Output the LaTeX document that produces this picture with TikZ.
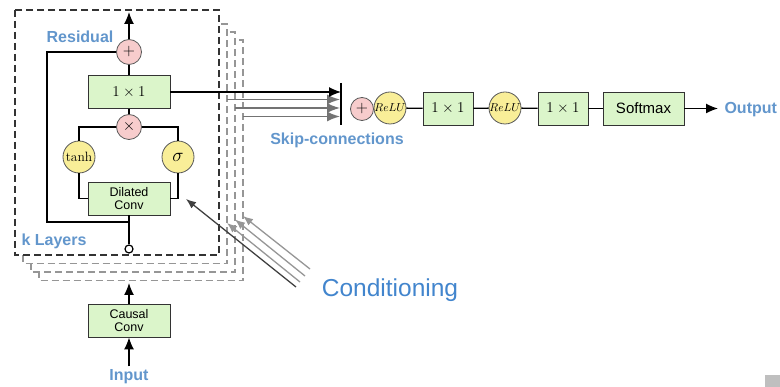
\RequirePackage{fix-cm}
\documentclass[tikz,border=0pt]{standalone}
\usepackage{fontspec}
\setsansfont{Liberation Sans}
\usepackage{amsmath}
\usetikzlibrary{arrows.meta}
\definecolor{boxgreen}{RGB}{219,245,202}
\definecolor{oppink}{RGB}{247,204,204}
\definecolor{actyellow}{RGB}{249,238,152}
\definecolor{lblblue}{RGB}{98,150,204}
\definecolor{condblue}{RGB}{66,133,205}
\definecolor{stackgray}{RGB}{150,150,150}

\begin{document}
\begin{tikzpicture}[x=1pt,y=-1pt,
    conv/.style={draw=black!80,fill=boxgreen,line width=0.9pt,minimum width=82pt,minimum height=33pt,inner sep=0pt,align=center,font=\sffamily\fontsize{12.5}{13.5}\selectfont},
    smallconv/.style={conv,minimum width=50pt,font=\fontsize{15}{18}\selectfont},
    opcirc/.style={circle,draw=black!65,fill=oppink,line width=0.8pt,minimum size=25pt,inner sep=0pt,font=\fontsize{16}{18}\selectfont},
    actcirc/.style={circle,draw=black!65,fill=actyellow,line width=0.8pt,minimum size=32pt,inner sep=0pt,font=\fontsize{13.5}{16}\selectfont},
    lbl/.style={text=lblblue,font=\sffamily\bfseries\fontsize{16}{18}\selectfont},
    layerbox/.style={line width=1.4pt,dash pattern=on 7pt off 4pt,fill=white},
    wire/.style={line width=1.3pt},
    arr/.style={wire,-{Latex[length=12pt,width=10pt]}},
    skiparr/.style={line width=1.5pt,draw=black!55,-{Latex[length=13pt,width=10pt]}},
    condarr/.style={line width=1.3pt,-{Latex[length=10pt,width=8pt]}}]
\path[use as bounding box] (0,0) rectangle (780,387);

% stacked layers
\foreach \k in {3,2,1}
    \draw[layerbox,draw=stackgray] ({15+8*\k},{16+8*\k}) rectangle ({219+8*\k},{255+8.5*\k});
\foreach \k in {1,2,3} {
    \coordinate (skipin\k) at ({219+8*\k},{91+8.5*\k});
    \coordinate (skipend\k) at (340,{91+8.5*\k});
    \draw[skiparr] (skipin\k) -- (skipend\k);
}
\draw[layerbox,draw=black!80] (15,10) rectangle (219,255);

% one residual layer
\node[opcirc] (res) at (129,52) {$+$};
\node[conv,font=\fontsize{15}{18}\selectfont] (onebyone) at (129,92) {$1\times1$};
\node[opcirc] (mult) at (129,127) {$\times$};
\node[actcirc] (tanh) at (79,157) {$\tanh$};
\node[actcirc,font=\fontsize{19}{22}\selectfont] (sig) at (178,157) {$\sigma$};
\node[conv] (dil) at (129,198.5) {Dilated\\Conv};
\node[circle,draw,fill=white,line width=1.2pt,minimum size=8pt,inner sep=0pt] (tap) at (129,249) {};
\coordinate (split) at (129,222);
\coordinate (resleft) at (47,222);
\coordinate (resout) at (129,12);

\draw[wire] (tap.north) -- (dil.south);
\draw[wire] (split) -- (resleft) |- (res.west);
\draw[wire] (tanh.south) |- (dil.west);
\draw[wire] (sig.south) |- (dil.east);
\draw[wire] (mult.west) -| (tanh.north);
\draw[wire] (mult.east) -| (sig.north);
\draw[wire] (mult.north) -- (onebyone.south);
\draw[wire] (onebyone.north) -- (res.south);
\draw[arr] (res.north) -- (resout);

\node[lbl] (residual) at (80,37) {Residual};
\node[lbl] (klayers) at (54,241) {k Layers};

% input
\node[conv] (causal) at (129,320.5) {Causal\\Conv};
\node[lbl] (input) at (129,377) {Input};
\coordinate (stackin) at (129,283);
\draw[arr] (input.north) -- (causal.south);
\draw[arr] (causal.north) -- (stackin);

% skip connections and output
\coordinate (bartop) at (341,83);
\coordinate (barbot) at (341,125);
\draw[line width=1.3pt] (bartop) -- (barbot);
\draw[arr] (onebyone.east) -- (onebyone.east -| bartop);
\node[lbl] (skip) at (337,140) {Skip-connections};

\node[opcirc,minimum size=23pt] (sum) at (362,109) {$+$};
\node[actcirc,font=\fontsize{11.5}{14}\selectfont] (relu1) at (390,108) {$ReLU$};
\node[smallconv] (conv1) at (448,108.5) {$1\times1$};
\node[actcirc,font=\fontsize{11.5}{14}\selectfont] (relu2) at (505,108) {$ReLU$};
\node[smallconv] (conv2) at (563,108.5) {$1\times1$};
\node[conv,minimum width=81pt,font=\sffamily\fontsize{15}{18}\selectfont] (softmax) at (643.5,108.5) {Softmax};
\coordinate (outend) at (718,108.5);
\node[lbl,anchor=west] (output) at (721,110) {Output};

\draw[wire] (relu1) -- (conv1);
\draw[wire] (conv1) -- (relu2);
\draw[wire] (relu2) -- (conv2);
\draw[wire] (conv2) -- (softmax);
\draw[arr] (softmax.east) -- (outend);

% conditioning
\foreach \k/\sx/\sy in {1/300/282,2/305/276,3/310/269} {
    \coordinate (condin\k) at (\sx,\sy);
    \coordinate (condend\k) at ({219+8*\k},{226.5-3.5*\k});
    \draw[condarr,stackgray] (condin\k) -- (condend\k);
}
\coordinate (condin) at (296,287);
\coordinate (condend) at (186,199);
\draw[condarr,black!75] (condin) -- (condend);
\node[text=condblue,font=\sffamily\fontsize{24.5}{28}\selectfont] (cond) at (390,290) {Conditioning};

\fill[black!25] (765,375) rectangle (780,387);
\end{tikzpicture}
\end{document}
